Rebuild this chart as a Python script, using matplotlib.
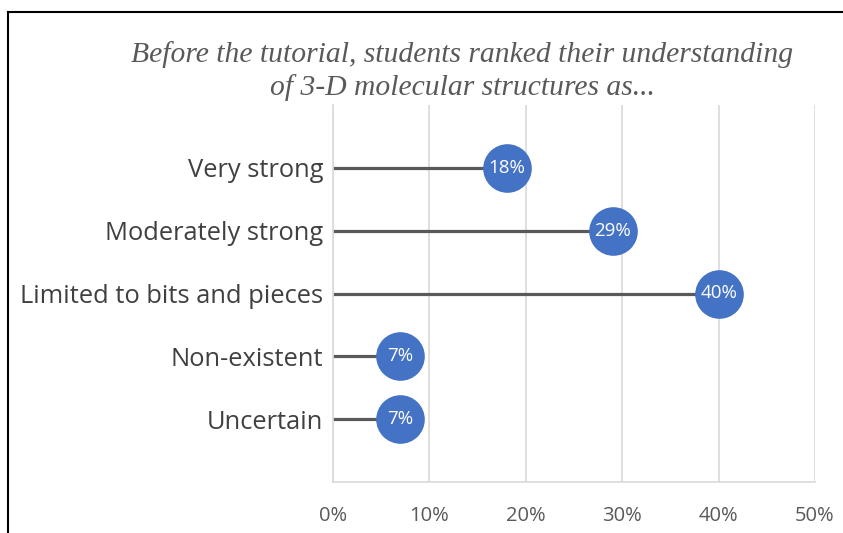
import matplotlib.pyplot as plt
from matplotlib.lines import Line2D
from matplotlib.ticker import PercentFormatter

# data
categories = ["Very strong", "Moderately strong", "Limited to bits and pieces",
              "Non-existent", "Uncertain"]
values = [18, 29, 40, 7, 7]
xticks = [0, 10, 20, 30, 40, 50]

grey = "#595959"
blue = "#4472C4"

fig = plt.figure(figsize=(8.43, 5.33), dpi=100)
ax = fig.add_axes([333 / 843, 51 / 533, 482 / 843, 377 / 533])

ypos = list(range(len(categories)))[::-1]

for y, v in zip(ypos, values):
    ax.plot([0, v], [y, y], color=grey, lw=2.3, solid_capstyle="butt", zorder=2)
ax.plot(values, ypos, "o", color=blue, markersize=35, markeredgewidth=0, zorder=3)
for y, v in zip(ypos, values):
    ax.text(v, y, f"{v}%", color="white", ha="center", va="center",
            fontsize=13.5, family="Open Sans", zorder=4)

ax.set_xlim(0, 50)
ax.set_ylim(-1, len(categories))
ax.set_xticks(xticks)
ax.xaxis.set_major_formatter(PercentFormatter(decimals=0))
ax.set_yticks(ypos)
ax.set_yticklabels(categories)
ax.grid(axis="x", color="#D9D9D9", lw=1.2, zorder=0)
ax.set_axisbelow(True)

for s in ["top", "right"]:
    ax.spines[s].set_visible(False)
for s in ["left", "bottom"]:
    ax.spines[s].set_color("#D9D9D9")
    ax.spines[s].set_linewidth(1.2)

ax.tick_params(axis="x", length=0, pad=17, labelsize=14.5, labelcolor=grey)
ax.tick_params(axis="y", length=0, pad=7, labelsize=18.4, labelcolor="#404040")
for lab in ax.get_xticklabels() + ax.get_yticklabels():
    lab.set_family("Open Sans")

tx = 462 / 843
fig.text(tx, 1 - 55 / 533, "Before the tutorial, students ranked their understanding",
         ha="center", va="center", fontsize=21.3, style="italic",
         family="Liberation Serif", color=grey)
fig.text(tx, 1 - 88 / 533, "of 3-D molecular structures as...",
         ha="center", va="center", fontsize=21.3, style="italic",
         family="Liberation Serif", color=grey)

# outer frame (left and top edges visible)
fig.add_artist(Line2D([7.5 / 843, 7.5 / 843], [0, 1 - 12 / 533],
                      transform=fig.transFigure, color="black", lw=1.5))
fig.add_artist(Line2D([7.5 / 843, 1], [1 - 12 / 533, 1 - 12 / 533],
                      transform=fig.transFigure, color="black", lw=1.5))

fig.savefig("out.png", dpi=100)
